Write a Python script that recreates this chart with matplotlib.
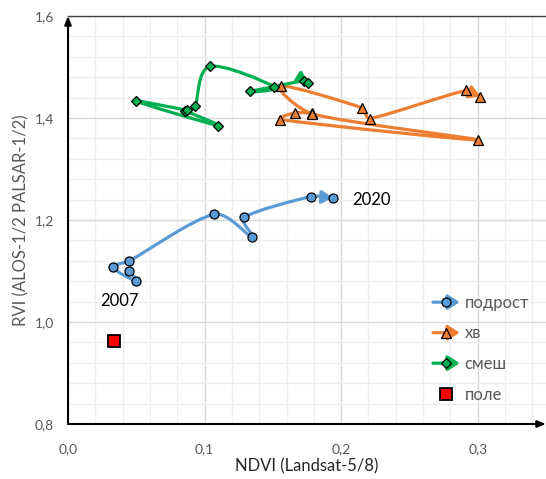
import numpy as np
import matplotlib
matplotlib.use('Agg')
import matplotlib.pyplot as plt
from matplotlib.path import Path
from matplotlib.patches import PathPatch, FancyArrowPatch
from matplotlib.lines import Line2D
from matplotlib.legend_handler import HandlerBase
from matplotlib.ticker import FuncFormatter, MultipleLocator

plt.rcParams['font.family'] = ['Lato', 'Noto Sans', 'DejaVu Sans']

# ---------------- data ----------------
podrost_ndvi = [0.045, 0.050, 0.033, 0.045, 0.107, 0.135, 0.129, 0.178, 0.194]
podrost_rvi = [1.100, 1.080, 1.107, 1.120, 1.211, 1.166, 1.205, 1.246, 1.244]

hv_ndvi = [0.179, 0.166, 0.1555, 0.300, 0.179, 0.156, 0.215, 0.221, 0.2915, 0.302]
hv_rvi = [1.409, 1.410, 1.397, 1.357, 1.408, 1.463, 1.420, 1.399, 1.454, 1.442]

smesh_ndvi = [0.086, 0.110, 0.050, 0.087, 0.093, 0.104, 0.151, 0.133, 0.173, 0.176]
smesh_rvi = [1.414, 1.385, 1.433, 1.416, 1.423, 1.501, 1.461, 1.452, 1.473, 1.468]

pole_ndvi = [0.034]
pole_rvi = [0.962]

labels = ['подрост', 'хв', 'смеш', 'поле']
year_start, year_end = '2007', '2020'

# ---------------- style ----------------
C_BLUE = '#5B9BD5'
C_ORANGE = '#ED7D31'
C_GREEN = '#00B050'
C_RED = '#FF0000'
GRAY = '#595959'
LW = 2.3

W, H = 546, 479
fig = plt.figure(figsize=(W / 100, H / 100), dpi=100)
ax = fig.add_axes([68 / W, (H - 424) / H, (546 - 68) / W, (424 - 16) / H])
ax.set_xlim(0, 0.35)
ax.set_ylim(0.8, 1.6)

ax.xaxis.set_major_locator(MultipleLocator(0.1))
ax.xaxis.set_minor_locator(MultipleLocator(0.02))
ax.yaxis.set_major_locator(MultipleLocator(0.2))
ax.yaxis.set_minor_locator(MultipleLocator(0.04))
fmt = FuncFormatter(lambda v, p: f"{v:.1f}".replace('.', ','))
ax.xaxis.set_major_formatter(fmt)
ax.yaxis.set_major_formatter(fmt)
ax.grid(which='major', color='#D9D9D9', lw=1)
ax.grid(which='minor', color='#EEEEEE', lw=1)
ax.set_axisbelow(True)
ax.tick_params(which='both', length=0)
ax.tick_params(axis='x', pad=14, labelsize=10, labelcolor=GRAY)
ax.tick_params(axis='y', pad=10, labelsize=10, labelcolor=GRAY)

for s in ['left', 'bottom', 'right']:
    ax.spines[s].set_visible(False)
ax.spines['top'].set_color('#404040')
ax.spines['top'].set_linewidth(1.0)

# axis lines with arrows
for end in [(1.0, 0), (0, 1.0)]:
    ax.annotate('', xy=end, xytext=(0, 0), xycoords='axes fraction',
                arrowprops=dict(arrowstyle='-|>,head_length=0.5,head_width=0.2',
                                color='black', lw=1.5, shrinkA=0, shrinkB=0,
                                mutation_scale=10), annotation_clip=False)

ax.set_xlabel('NDVI (Landsat-5/8)', fontsize=12, color='#262626', labelpad=2)
ax.set_ylabel('RVI (ALOS-1/2 PALSAR-1/2)', fontsize=12, color=GRAY, labelpad=4)


def smooth_path(xs, ys):
    """Excel-like smoothed line: cubic Bezier with Catmull-Rom tangents,
    arms limited relative to segment length (computed in pixel space)."""
    pd = np.column_stack([xs, ys]).astype(float)
    p = ax.transData.transform(pd)
    n = len(p)
    tang = []
    for i in range(n):
        a = p[i - 1] if i > 0 else p[i]
        b = p[i + 1] if i + 1 < n else p[i]
        tang.append((b - a) / 6.0)
    verts = [p[0]]
    codes = [Path.MOVETO]
    for i in range(n - 1):
        L = np.hypot(*(p[i + 1] - p[i]))
        lim = L / 3.0
        t1, t2 = tang[i], tang[i + 1]
        n1, n2 = np.hypot(*t1), np.hypot(*t2)
        if n1 > lim and n1 > 0:
            t1 = t1 * lim / n1
        if n2 > lim and n2 > 0:
            t2 = t2 * lim / n2
        verts += [p[i] + t1, p[i + 1] - t2, p[i + 1]]
        codes += [Path.CURVE4] * 3
    verts_d = ax.transData.inverted().transform(np.array(verts))
    return Path(verts_d, codes), verts


def draw_series(xs, ys, color, marker, ms):
    path, verts = smooth_path(xs, ys)
    ax.add_patch(PathPatch(path, facecolor='none', edgecolor=color, lw=LW,
                           capstyle='round', joinstyle='round', zorder=3))
    end = np.array(verts[-1])
    prev = np.array(verts[-2])
    if np.allclose(prev, end):
        prev = np.array(verts[-4])
    v = end - prev
    v = v / np.hypot(*v)
    ax.annotate('', xy=(xs[-1], ys[-1]), xycoords='data',
                xytext=(-7 * v[0], -7 * v[1]), textcoords='offset points',
                arrowprops=dict(arrowstyle='-|>,head_length=0.65,head_width=0.38',
                                color=color, lw=LW, shrinkA=0, shrinkB=0,
                                mutation_scale=10), zorder=3)
    ax.plot(xs, ys, ls='none', marker=marker, ms=ms, mfc=color, mec='black',
            mew=0.9, zorder=4)


draw_series(podrost_ndvi, podrost_rvi, C_BLUE, 'o', 6.5)
draw_series(hv_ndvi, hv_rvi, C_ORANGE, '^', 7)
draw_series(smesh_ndvi, smesh_rvi, C_GREEN, 'D', 5.2)
ax.plot(pole_ndvi, pole_rvi, ls='none', marker='s', ms=8, mfc=C_RED, mec='black',
        mew=1.3, zorder=4)

ax.text(0.0375, 1.041, year_start, fontsize=12, color='black', ha='center', va='center')
ax.text(0.2224, 1.239, year_end, fontsize=12, color='black', ha='center', va='center')


# ---------------- legend ----------------
class ArrowHandler(HandlerBase):
    def __init__(self, color, marker, ms):
        super().__init__()
        self.color, self.marker, self.ms = color, marker, ms

    def create_artists(self, legend, orig_handle, xdescent, ydescent, width,
                       height, fontsize, trans):
        y = height / 2 - ydescent
        x0, x1 = -xdescent, -xdescent + width
        arr = FancyArrowPatch((x0, y), (x1, y),
                              arrowstyle='-|>,head_length=0.7,head_width=0.45',
                              mutation_scale=10, color=self.color, lw=LW,
                              shrinkA=0, shrinkB=0, transform=trans)
        m = Line2D([(x0 + x1) / 2], [y], ls='none', marker=self.marker, ms=self.ms,
                   mfc=self.color, mec='black', mew=0.9, transform=trans)
        return [arr, m]


h1 = Line2D([], [], color=C_BLUE)
h2 = Line2D([], [], color=C_ORANGE)
h3 = Line2D([], [], color=C_GREEN)
h4 = Line2D([], [], ls='none', marker='s', ms=8, mfc=C_RED, mec='black', mew=1.3)
leg = fig.legend([h1, h2, h3, h4], labels, loc='upper left',
                 bbox_to_anchor=(433 / W, (H - 295) / H), bbox_transform=fig.transFigure,
                 frameon=False, fontsize=12, labelcolor=GRAY, borderpad=0,
                 borderaxespad=0, handlelength=1.6, handletextpad=0.3,
                 labelspacing=0.87,
                 handler_map={h1: ArrowHandler(C_BLUE, 'o', 6.5),
                              h2: ArrowHandler(C_ORANGE, '^', 7),
                              h3: ArrowHandler(C_GREEN, 'D', 5.2)})

fig.savefig('out.png', dpi=100)
